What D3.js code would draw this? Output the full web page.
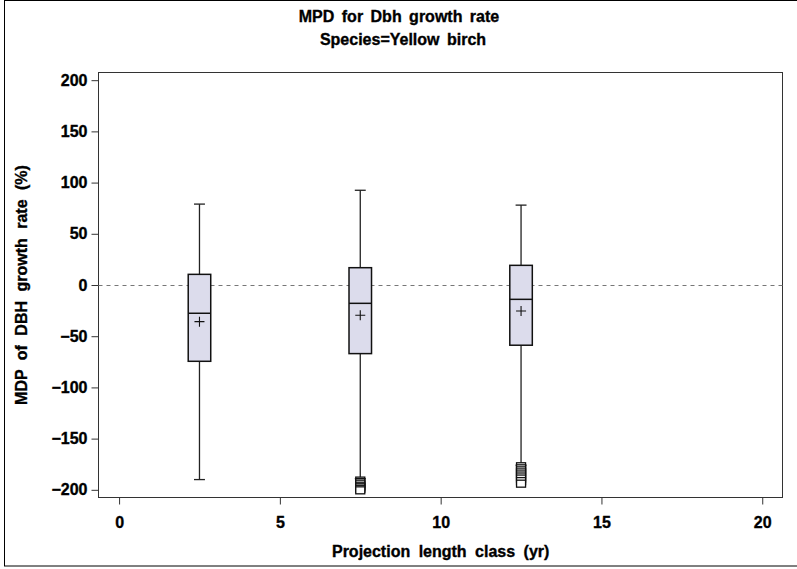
<!DOCTYPE html>
<html><head><meta charset="utf-8">
<script src="https://cdn.jsdelivr.net/npm/d3@7"></script>
<style>body{margin:0;background:#fff}svg text{font-family:"Liberation Sans",Arial,sans-serif;font-weight:bold;fill:#000;stroke:#000;stroke-width:0.35px}</style>
</head><body><svg id="c" width="797" height="569"></svg>
<script>
const categories = [2.5, 7.5, 12.5];
const whiskerHigh = [79, 92.5, 78];
const q3 = [10.4, 16.9, 19.2];
const median = [-27.6, -17.9, -14];
const mean = [-35.8, -29.6, -25.4];
const q1 = [-74.5, -67, -58.8];
const whiskerLow = [-190, -189, -176];
const outliers = [
  [],
  [-191, -192.5, -194, -196, -197.5, -199, -200.5],
  [-177, -179, -181, -183, -185, -187, -189, -191.5, -194]
];
const xTicks = [0, 5, 10, 15, 20];
const yTicks = [-200, -150, -100, -50, 0, 50, 100, 150, 200];

const svg = d3.select("#c");
const L = 98.5, R = 782.5, T = 72.5, B = 497.5;
const x = d3.scaleLinear().domain([-0.64, 20.63]).range([L, R]);
const y = d3.scaleLinear().domain([-207.5, 207.5]).range([B, T]);

// outer border
svg.append("rect").attr("x", 4.5).attr("y", 0.5).attr("width", 800).attr("height", 565.5)
  .attr("fill", "none").attr("stroke", "#000").attr("stroke-width", 1);

// titles
svg.append("text").attr("x", 399).attr("y", 22).attr("text-anchor", "middle").attr("font-size", 16).attr("word-spacing", 3).text("MPD for Dbh growth rate");
svg.append("text").attr("x", 403).attr("y", 45).attr("text-anchor", "middle").attr("font-size", 16).attr("word-spacing", 3).text("Species=Yellow birch");

// frame
svg.append("rect").attr("x", L).attr("y", T).attr("width", R - L).attr("height", B - T)
  .attr("fill", "none").attr("stroke", "#333").attr("stroke-width", 1);

// y axis
const yAxis = d3.axisLeft(y).tickValues(yTicks).tickSize(7).tickPadding(4)
  .tickFormat(d => d < 0 ? "\u2212" + Math.abs(d) : d);
const gy = svg.append("g").attr("transform", `translate(${L},0)`).call(yAxis);
gy.select(".domain").remove();
gy.selectAll("line").attr("stroke", "#333");
gy.selectAll("text").attr("font-size", 16).attr("font-family", "Liberation Sans, Arial").attr("font-weight", "bold");

// x axis
const xAxis = d3.axisBottom(x).tickValues(xTicks).tickSize(7).tickPadding(12).tickFormat(d3.format("d"));
const gx = svg.append("g").attr("transform", `translate(0,${B})`).call(xAxis);
gx.select(".domain").remove();
gx.selectAll("line").attr("stroke", "#333");
gx.selectAll("text").attr("font-size", 16).attr("font-family", "Liberation Sans, Arial").attr("font-weight", "bold");

// axis titles
svg.append("text").attr("x", x(10)).attr("y", 557).attr("text-anchor", "middle").attr("font-size", 16).attr("word-spacing", 4).text("Projection length class (yr)");
svg.append("text").attr("transform", `translate(27,${y(0)}) rotate(-90)`).attr("text-anchor", "middle").attr("font-size", 16).attr("word-spacing", 5).text("MDP of DBH growth rate (%)");

// zero reference line
svg.append("line").attr("x1", L).attr("x2", R).attr("y1", Math.round(y(0)) + 0.5).attr("y2", Math.round(y(0)) + 0.5)
  .attr("stroke", "#777").attr("stroke-width", 1).attr("stroke-dasharray", "4,4");

const bw = 0.7, cw = 0.34;
categories.forEach((c, i) => {
  const g = svg.append("g");
  const cx = x(c);
  g.append("line").attr("x1", cx).attr("x2", cx).attr("y1", y(whiskerHigh[i])).attr("y2", y(q3[i])).attr("stroke", "#222").attr("stroke-width", 1.3);
  g.append("line").attr("x1", cx).attr("x2", cx).attr("y1", y(q1[i])).attr("y2", y(whiskerLow[i])).attr("stroke", "#222").attr("stroke-width", 1.3);
  g.append("line").attr("x1", x(c - cw / 2)).attr("x2", x(c + cw / 2)).attr("y1", y(whiskerHigh[i])).attr("y2", y(whiskerHigh[i])).attr("stroke", "#222").attr("stroke-width", 1.3);
  g.append("line").attr("x1", x(c - cw / 2)).attr("x2", x(c + cw / 2)).attr("y1", y(whiskerLow[i])).attr("y2", y(whiskerLow[i])).attr("stroke", "#222").attr("stroke-width", 1.3);
  g.append("rect").attr("x", x(c - bw / 2)).attr("width", x(c + bw / 2) - x(c - bw / 2))
    .attr("y", y(q3[i])).attr("height", y(q1[i]) - y(q3[i]))
    .attr("fill", "#dcdcec").attr("stroke", "#111").attr("stroke-width", 1.5);
  g.append("line").attr("x1", x(c - bw / 2)).attr("x2", x(c + bw / 2)).attr("y1", y(median[i])).attr("y2", y(median[i])).attr("stroke", "#111").attr("stroke-width", 1.5);
  const my = y(mean[i]);
  g.append("path").attr("d", `M${cx - 5},${my}H${cx + 5}M${cx},${my - 5}V${my + 5}`).attr("stroke", "#111").attr("stroke-width", 1.1).attr("fill", "none");
  outliers[i].forEach(v => {
    g.append("rect").attr("x", cx - 4.5).attr("y", y(v) - 3.5).attr("width", 9).attr("height", 7)
      .attr("fill", "#fff").attr("stroke", "#111").attr("stroke-width", 1.3);
  });
});
</script></body></html>
